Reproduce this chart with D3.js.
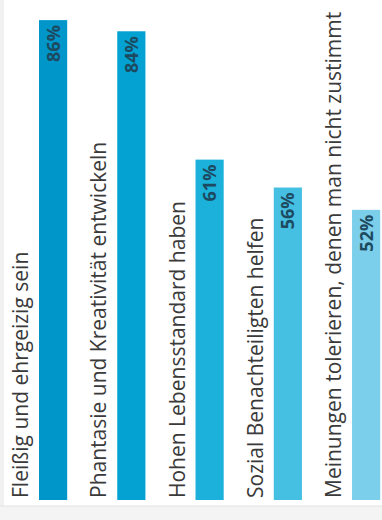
<!DOCTYPE html>
<html>
<head>
    <meta charset="utf-8">
    <title>Werte Balken</title>
    <script src="https://d3js.org/d3.v7.min.js"></script>
    <style>
        body { margin: 0; background: #fff; }
        svg { display: block; }
        .cat-label { font-family: "Open Sans", sans-serif; font-size: 21px; fill: #3a3a3a; }
        .val-label { font-family: "Open Sans", sans-serif; font-size: 18px; font-weight: bold; fill: #1d4a60; }
    </style>
</head>
<body>
    <svg width="382" height="520" id="chart"></svg>

    <script>
        // Data
        const categories = [
            "Fleißig und ehrgeizig sein",
            "Phantasie und Kreativität entwickeln",
            "Hohen Lebensstandard haben",
            "Sozial Benachteiligten helfen",
            "Meinungen tolerieren, denen man nicht zustimmt"
        ];
        const values = [86, 84, 61, 56, 52];
        const barColors = ["#0096c9", "#03a2d2", "#1bb1da", "#45bfe2", "#7ccfea"];

        const svg = d3.select("#chart");
        const baseY = 500;

        // frame bits
        svg.append("rect").attr("x", 0).attr("y", 0).attr("width", 4).attr("height", 520).attr("fill", "#f1f1f1");
        svg.append("rect").attr("x", 0).attr("y", 506).attr("width", 382).attr("height", 14).attr("fill", "#f4f4f4");
        svg.append("line").attr("x1", 0).attr("x2", 382).attr("y1", 506).attr("y2", 506)
            .attr("stroke", "#e2e2e2").attr("stroke-width", 1);

        const x = d3.scaleBand()
            .domain(categories)
            .range([39, 380.2])
            .paddingInner(0.64)
            .paddingOuter(0);

        const y = d3.scaleLinear()
            .domain([0, 100])
            .range([baseY, -58]);

        const data = categories.map((c, i) => ({ cat: c, value: values[i], color: barColors[i] }));

        const bar = svg.append("g").selectAll("g")
            .data(data)
            .enter().append("g");

        bar.append("rect")
            .attr("x", d => x(d.cat))
            .attr("y", d => y(d.value))
            .attr("width", x.bandwidth())
            .attr("height", d => baseY - y(d.value))
            .attr("fill", d => d.color);

        // category labels, rotated, left of each bar
        bar.append("text")
            .attr("class", "cat-label")
            .attr("transform", d => `translate(${x(d.cat) - 11},${baseY - 2}) rotate(-90)`)
            .text(d => d.cat);

        // value labels inside the bar top
        bar.append("text")
            .attr("class", "val-label")
            .attr("text-anchor", "end")
            .attr("transform", d => `translate(${x(d.cat) + x.bandwidth() / 2 + 6.5},${y(d.value) + 5}) rotate(-90)`)
            .text(d => d.value + "%");
    </script>
</body>
</html>
